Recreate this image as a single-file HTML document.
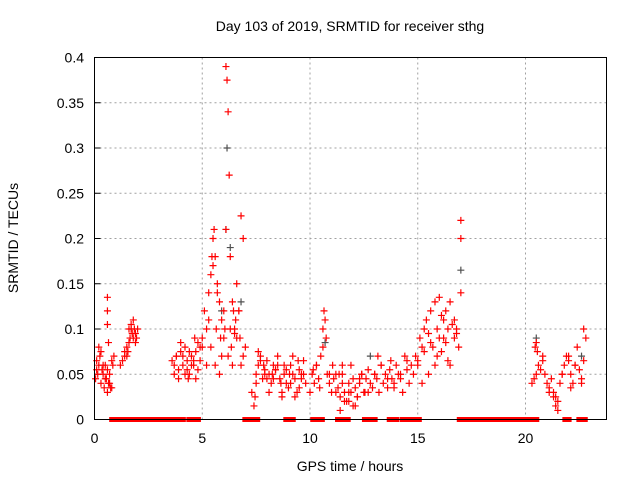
<!DOCTYPE html>
<html><head><meta charset="utf-8"><style>
body{margin:0;background:#fff;}
svg text{font-family:"Liberation Sans",sans-serif;font-size:14px;fill:#000;}
</style></head><body>
<svg id="chart" width="640" height="480" xmlns="http://www.w3.org/2000/svg">
<rect width="640" height="480" fill="#fff"/>
<text x="350" y="31" text-anchor="middle">Day 103 of 2019, SRMTID for receiver sthg</text>
<text x="350" y="471" text-anchor="middle">GPS time / hours</text>
<text transform="translate(18,238) rotate(-90)" text-anchor="middle">SRMTID / TECUs</text>
<g id="grid"></g><g id="ticks"></g><g id="marks"></g>
<rect x="94.5" y="57.5" width="512" height="362" fill="none" stroke="#000" stroke-width="1"/>
</svg>
<script>
const xTicks=[0,5,10,15,20];
const yTicks=[0,0.05,0.1,0.15,0.2,0.25,0.3,0.35,0.4];
const yTickLabels=["0","0.05","0.1","0.15","0.2","0.25","0.3","0.35","0.4"];
const redTimes=[
0.05,0.1,0.15,0.2,0.25,0.3,0.35,0.4,0.45,0.5,
0.55,0.6,0.65,0.7,0.75,0.8,0.85,0.9,0.1,0.2,
0.3,0.4,0.5,0.6,0.7,0.8,0.6,0.6,0.6,0.65,
1.2,1.3,1.4,1.5,1.55,1.6,1.65,1.7,1.75,1.8,
1.85,1.9,1.95,2.0,1.5,1.7,1.9,1.6,1.8,1.4,
3.6,3.7,3.8,3.9,4.0,4.1,4.2,4.3,4.4,4.5,
4.6,4.7,4.8,4.9,5.0,3.7,3.9,4.1,4.3,4.5,
4.7,4.9,3.8,4.2,4.6,4.0,4.4,4.8,4.35,4.65,
5.0,5.1,5.2,5.3,5.4,5.5,5.55,5.6,5.7,5.8,
5.9,6.0,6.05,6.1,6.15,6.2,6.25,6.3,6.4,6.5,
6.6,6.7,6.75,6.8,6.9,7.0,5.2,5.4,5.6,5.8,
6.0,6.2,6.4,6.6,6.8,5.3,5.7,6.1,6.5,6.9,
5.5,5.9,6.3,6.7,5.45,5.65,5.85,6.45,6.55,6.35,
7.3,7.4,7.5,7.6,7.7,7.8,7.9,8.0,8.1,8.2,
8.3,8.4,8.5,8.6,8.7,8.8,8.9,9.0,9.1,9.2,
9.3,9.4,9.5,9.6,9.7,9.8,7.5,7.7,7.9,8.1,
8.3,8.5,8.7,8.9,9.1,9.3,9.5,9.7,7.6,8.0,
8.4,8.8,9.2,9.6,7.45,7.85,8.25,8.65,9.05,9.45,
10.0,10.1,10.2,10.3,10.4,10.5,10.6,10.65,10.7,10.75,
10.8,10.9,11.0,11.1,11.2,11.3,11.4,11.5,11.6,11.7,
11.8,11.9,12.0,12.1,12.2,12.3,12.4,12.5,12.6,12.7,
12.8,12.9,13.0,13.1,13.2,13.3,13.4,13.5,13.6,13.7,
13.8,13.9,14.0,14.1,14.2,14.3,14.4,14.5,14.6,14.7,
10.3,10.6,10.9,11.2,11.5,11.8,12.1,12.4,12.7,13.0,
13.3,13.6,13.9,14.2,14.5,11.4,11.6,11.8,12.0,12.2,
11.5,11.9,12.3,10.15,10.45,11.05,11.35,12.55,13.15,13.75,
14.8,14.9,15.0,15.1,15.2,15.3,15.4,15.5,15.6,15.7,
15.8,15.9,16.0,16.1,16.2,16.3,16.4,16.5,16.6,16.7,
16.8,16.9,17.0,17.0,17.0,15.0,15.3,15.6,15.9,16.2,
16.5,16.8,15.2,15.5,15.8,16.1,16.4,16.7,16.0,16.3,
20.3,20.4,20.5,20.6,20.7,20.8,20.9,21.0,21.1,21.2,
21.3,21.4,21.5,21.6,21.7,21.8,21.9,22.0,22.1,22.2,
22.3,22.4,22.5,22.6,22.7,22.8,20.5,20.8,21.1,21.4,
21.7,22.0,22.3,22.6,21.3,21.5,22.1,22.7,20.45,20.55];
const redValues=[
0.045,0.065,0.05,0.06,0.07,0.04,0.055,0.05,0.035,0.06,
0.045,0.03,0.04,0.05,0.035,0.065,0.06,0.07,0.055,0.08,
0.075,0.06,0.045,0.055,0.04,0.035,0.135,0.12,0.105,0.085,
0.06,0.065,0.07,0.08,0.075,0.085,0.09,0.1,0.095,0.11,
0.1,0.095,0.09,0.1,0.07,0.105,0.085,0.1,0.09,0.075,
0.065,0.06,0.07,0.055,0.075,0.06,0.08,0.065,0.05,0.07,
0.06,0.075,0.085,0.065,0.08,0.05,0.045,0.07,0.055,0.06,
0.045,0.08,0.07,0.05,0.065,0.085,0.075,0.055,0.045,0.09,
0.09,0.12,0.1,0.14,0.16,0.2,0.21,0.18,0.15,0.13,
0.11,0.12,0.1,0.39,0.375,0.34,0.27,0.18,0.13,0.1,
0.15,0.12,0.09,0.225,0.2,0.08,0.06,0.08,0.06,0.05,
0.09,0.07,0.06,0.09,0.06,0.11,0.14,0.21,0.095,0.07,
0.17,0.07,0.1,0.12,0.18,0.1,0.09,0.12,0.11,0.08,
0.03,0.015,0.05,0.06,0.07,0.045,0.055,0.065,0.05,0.04,
0.06,0.055,0.07,0.045,0.03,0.05,0.04,0.035,0.06,0.07,
0.045,0.03,0.055,0.05,0.065,0.04,0.04,0.065,0.05,0.03,
0.045,0.06,0.025,0.055,0.04,0.025,0.035,0.05,0.075,0.045,
0.055,0.06,0.05,0.045,0.025,0.06,0.05,0.04,0.05,0.065,
0.03,0.05,0.04,0.06,0.045,0.07,0.1,0.12,0.11,0.09,
0.05,0.04,0.03,0.045,0.05,0.035,0.025,0.04,0.03,0.02,
0.04,0.03,0.045,0.035,0.025,0.04,0.05,0.03,0.045,0.055,
0.04,0.035,0.05,0.045,0.03,0.06,0.04,0.05,0.035,0.055,
0.045,0.04,0.06,0.05,0.045,0.03,0.07,0.055,0.04,0.06,
0.06,0.08,0.05,0.03,0.06,0.02,0.015,0.05,0.03,0.05,
0.06,0.045,0.035,0.05,0.065,0.01,0.02,0.03,0.015,0.025,
0.05,0.06,0.045,0.055,0.035,0.06,0.05,0.03,0.07,0.065,
0.05,0.07,0.06,0.09,0.08,0.1,0.11,0.095,0.12,0.08,
0.13,0.1,0.09,0.115,0.11,0.085,0.1,0.13,0.105,0.09,
0.095,0.08,0.22,0.2,0.14,0.065,0.075,0.085,0.07,0.09,
0.06,0.1,0.04,0.05,0.06,0.075,0.065,0.11,0.135,0.12,
0.04,0.045,0.05,0.06,0.055,0.07,0.05,0.04,0.035,0.045,
0.03,0.025,0.02,0.04,0.05,0.06,0.07,0.065,0.05,0.04,
0.06,0.08,0.055,0.045,0.1,0.09,0.085,0.065,0.03,0.015,
0.05,0.07,0.06,0.04,0.025,0.01,0.035,0.065,0.08,0.075];
const grayTimes=[5.9,6.1,6.15,6.3,6.8,10.7,12.8,17.0,20.5,22.6];
const grayValues=[0.12,0.21,0.3,0.19,0.13,0.085,0.07,0.165,0.09,0.07];
const zeroStarts=[0.82,1.6,1.9,3.9,4.4,4.6,4.75,7.0,8.9,10.15,11.3,11.65,12.55,12.85,13.7,14.3,14.7,16.95,17.3,21.85,22.5];
const zeroEnds=[1.35,1.85,3.8,4.1,4.45,4.65,4.8,7.55,9.2,10.55,11.4,11.75,12.6,13.0,14.0,14.45,15.05,17.15,20.5,22.0,22.75];

const X=h=>94.5+h*21.55;
const Y=v=>419.5-v*905;
const NS="http://www.w3.org/2000/svg";
function mk(tag,attrs,parent){const e=document.createElementNS(NS,tag);for(const k in attrs)e.setAttribute(k,attrs[k]);parent.appendChild(e);return e;}
const grid=document.getElementById('grid'),ticks=document.getElementById('ticks'),marks=document.getElementById('marks');
xTicks.forEach(t=>{
  if(t>0){const g=mk('line',{x1:X(t),x2:X(t),y1:57.5,y2:419.5,stroke:'#a0a0a0','stroke-dasharray':'2,3'},grid);
  
  }
  const l=mk('text',{x:X(t),y:443,'text-anchor':'middle'},ticks);l.textContent=t;
  
  
});
yTicks.forEach((v,i)=>{
  if(v>0&&v<0.4){const g=mk('line',{x1:94.5,x2:606.5,y1:Y(v),y2:Y(v),stroke:'#a0a0a0','stroke-dasharray':'2,3'},grid);
  
  }
  mk('line',{x1:94.5,x2:100.5,y1:Y(v),y2:Y(v),stroke:'#000'},ticks);
  const l=mk('text',{x:84,y:Y(v)+5,'text-anchor':'end'},ticks);l.textContent=yTickLabels[i];
  
  
});
zeroStarts.forEach((s,i)=>{
  const r=mk('rect',{x:X(s)-3,y:Y(0)-2.5,width:X(zeroEnds[i])-X(s)+6,height:5,fill:'#ff0000'},marks);
  
  
});
function plus(t,v,c,name){
  const x=X(t),y=Y(v);
  const p=mk('path',{d:`M${x-3.5} ${y}H${x+3.5}M${x} ${y-3.5}V${y+3.5}`,stroke:c,'stroke-width':1.2,fill:'none'},marks);
  
  
}
grayTimes.forEach((t,i)=>plus(t,grayValues[i],'#505050','gray-point'));
redTimes.forEach((t,i)=>plus(t,redValues[i],'#ff0000','red-point'));
</script>
</body></html>
